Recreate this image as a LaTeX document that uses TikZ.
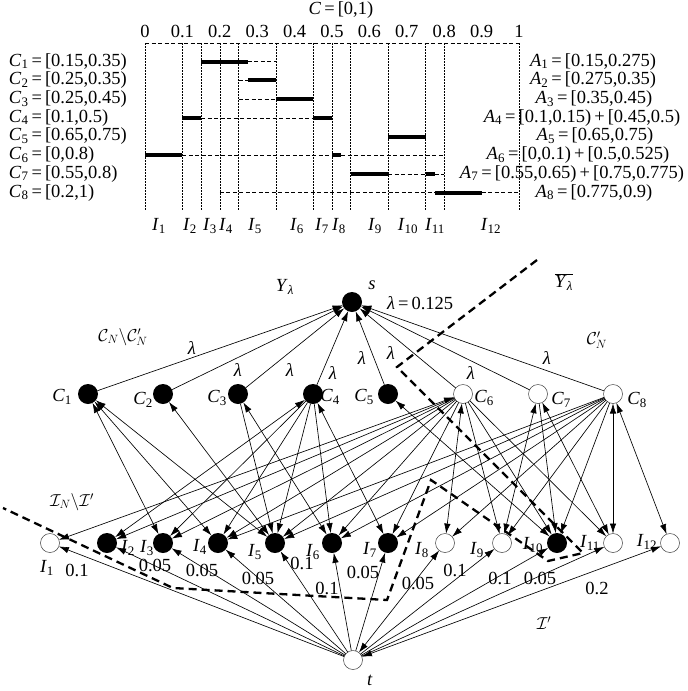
\documentclass[tikz,border=0pt]{standalone}
\usepackage{fontspec}
\setmainfont{Liberation Serif}
\usetikzlibrary{arrows.meta}
\newcommand\vv[2]{\textit{#1}\textsubscript{#2}}
\newcommand\lam{\textit{λ}}
\begin{document}
\begin{tikzpicture}[x=1pt,y=-1pt,
  every node/.style={font=\fontsize{18.5}{20}\selectfont, inner sep=0pt, outer sep=0pt},
  blk/.style={circle, fill=black, minimum size=20pt},
  wht/.style={circle, draw=black!75, line width=0.5pt, fill=white, minimum size=19pt},
  lnk/.style={line width=0.65pt},
  one/.style={lnk, -{Latex[length=10pt,width=6.5pt]}},
  two/.style={lnk, {Latex[length=10pt,width=6.5pt]}-{Latex[length=10pt,width=6.5pt]}},
  cutline/.style={line width=2.3pt, dash pattern=on 8pt off 5pt},
  gridline/.style={line width=0.5pt, dash pattern=on 2pt off 1pt},
  rowline/.style={line width=0.6pt, dash pattern=on 4pt off 2.5pt},
  bar/.style={line width=4pt},
]
\useasboundingbox (0,0) rectangle (688,691);

% ---------- top interval diagram ----------
\node (ctitle) at (341,10) {\textit{C}\,=\,[0,1)};
\foreach \v/\t [count=\k] in {0/0,0.1/0.1,0.2/0.2,0.3/0.3,0.4/0.4,0.5/0.5,0.6/0.6,0.7/0.7,0.8/0.8,0.9/0.9,1/1}
  \node (tk\k) at ({145+374*\v},31) {\t};
\draw[rowline] (145,43) -- (519,43);
\foreach \v in {0,0.1,0.15,0.2,0.25,0.35,0.45,0.5,0.55,0.65,0.75,0.8,1}
  \draw[gridline] ({145+374*\v},43) -- ({145+374*\v},210);

% dashed row spans
\foreach \a/\b/\y in {0.275/0.35/61.7, 0.25/0.275/80.4, 0.25/0.35/99.1, 0.15/0.45/117.8,
   0.1/0.5/155.2, 0.525/0.8/155.2, 0.65/0.75/173.9, 0.775/0.8/173.9, 0.2/0.775/192.6, 0.9/1/192.6}
  \draw[rowline] ({145+374*\a},\y) -- ({145+374*\b},\y);
% bold bars
\foreach \a/\b/\y in {0.15/0.275/61.7, 0.275/0.35/80.4, 0.35/0.45/99.1, 0.1/0.15/117.8, 0.45/0.5/117.8,
   0.65/0.75/136.5, 0/0.1/155.2, 0.5/0.525/155.2, 0.55/0.65/173.9, 0.75/0.775/173.9, 0.775/0.9/192.6}
  \draw[bar] ({145+374*\a},\y) -- ({145+374*\b},\y);

% left labels
\node[anchor=west] (lc1) at (9,61.7)  {\vv{C}{1}\,=\,[0.15,0.35)};
\node[anchor=west] (lc2) at (9,80.4)  {\vv{C}{2}\,=\,[0.25,0.35)};
\node[anchor=west] (lc3) at (9,99.1)  {\vv{C}{3}\,=\,[0.25,0.45)};
\node[anchor=west] (lc4) at (9,117.8) {\vv{C}{4}\,=\,[0.1,0.5)};
\node[anchor=west] (lc5) at (9,136.5) {\vv{C}{5}\,=\,[0.65,0.75)};
\node[anchor=west] (lc6) at (9,155.2) {\vv{C}{6}\,=\,[0,0.8)};
\node[anchor=west] (lc7) at (9,173.9) {\vv{C}{7}\,=\,[0.55,0.8)};
\node[anchor=west] (lc8) at (9,192.6) {\vv{C}{8}\,=\,[0.2,1)};

% right labels
\node (la1) at (593,61.7)  {\vv{A}{1}\,=\,[0.15,0.275)};
\node (la2) at (593,80.4)  {\vv{A}{2}\,=\,[0.275,0.35)};
\node (la3) at (594,99.1)  {\vv{A}{3}\,=\,[0.35,0.45)};
\node (la4) at (582,117.8) {\vv{A}{4}\,=\,[0.1,0.15)\,+\,[0.45,0.5)};
\node (la5) at (595,136.5) {\vv{A}{5}\,=\,[0.65,0.75)};
\node (la6) at (578,155.2) {\vv{A}{6}\,=\,[0,0.1)\,+\,[0.5,0.525)};
\node (la7) at (572,173.9) {\vv{A}{7}\,=\,[0.55,0.65)\,+\,[0.75,0.775)};
\node (la8) at (594,192.6) {\vv{A}{8}\,=\,[0.775,0.9)};

% interval labels
\foreach \x [count=\k] in {159,190,210,226,255,297,322,339,375,408,435,491}
  \node (li\k) at (\x,226) {\vv{I}{\k}};

% ---------- network ----------
\node[blk] (s) at (352,302) {};
\foreach \x [count=\k] in {88,163,238,313,388} \node[blk] (C\k) at (\x,394) {};
\foreach \x [count=\k from 6] in {463,538,613} \node[wht] (C\k) at (\x,394) {};
\node[wht] (I1) at (50,543) {};
\foreach \x [count=\k from 2] in {107,163,218,275,332,388} \node[blk] (I\k) at (\x,543) {};
\node[wht] (I8) at (445,543) {};
\node[wht] (I9) at (502,543) {};
\node[blk] (I10) at (557,543) {};
\node[wht] (I11) at (613,543) {};
\node[wht] (I12) at (670,543) {};
\node[wht] (t) at (353,660) {};

% C -> s
\foreach \k in {1,...,8} \draw[one] (C\k) -- (s);

% C -> I (single)
\foreach \c/\i in {3/5, 4/3, 4/4, 4/5, 4/6, 6/2, 6/3, 6/4, 6/5, 6/6, 6/7, 6/9, 6/10, 6/11, 7/10,
   8/4, 8/5, 8/6, 8/7, 8/8, 8/9, 8/10}
  \draw[one] (C\c) -- (I\i);
% C <-> I (double)
\foreach \c/\i in {1/3, 1/4, 1/5, 2/5, 3/6, 4/2, 4/7, 5/10, 6/1, 6/8, 7/9, 7/11, 8/11, 8/12}
  \draw[two] (C\c) -- (I\i);

% t -> I
\foreach \i in {1,2,3,4,5,6,7,9,10,11} \draw[one] (t) -- (I\i);
\draw[two] (t) -- (I8);
\draw[two] (t) -- (I12);

% cut
\draw[cutline] (537,260) -- (397,367) -- (583,553) -- (548,561) -- (431,480) -- (387,600) -- (173,588) -- (3,508);

% labels
\node (Ylam) at (285,287) {\textit{Y}\textsubscript{\lam}};
\node (slab) at (372,285) {\textit{s}};
\node[anchor=west] (lam0) at (387,303) {\lam\,=\,0.125};
\node (Ybar) at (564,282) {$\overline{\mbox{\textit{Y}\textsubscript{\lam}}}$};
\node (CNp) at (597,340) {$\mathcal{C}'_N$};
\node (CNdiff) at (123,337) {$\mathcal{C}_N\backslash\mathcal{C}'_N$};
\node (INdiff) at (72,502) {$\mathcal{I}_N\backslash\mathcal{I}'$};
\node (Ip) at (544,623) {$\mathcal{I}'$};
\node (tlab) at (370,680) {\textit{t}};

\foreach \x/\y [count=\k] in {192/348, 238/370, 290/370, 333/373, 362/358, 391/353, 471/373, 547/358}
  \node (lm\k) at (\x,\y) {\lam};

\foreach \x/\y [count=\k] in {62/397, 143/400, 217/398, 330/397, 364/397, 484/398, 561/400, 637/400}
  \node (lcn\k) at (\x,\y) {\vv{C}{\k}};

\foreach \x/\y [count=\k] in {47/568, 128/548, 147/548, 200/547, 255/552, 313/552, 370/550, 422/550, 477/550, 533/545, 590/543, 647/542}
  \node (lin\k) at (\x,\y) {\vv{I}{\k}};

\foreach \x/\y/\w [count=\k] in {77/570/0.1, 155/565/0.05, 202/570/0.05, 258/578/0.05, 302/563/0.1, 327/588/0.1,
   363/572/0.05, 418/583/0.05, 455/570/0.1, 500/578/0.1, 540/578/0.05, 597/588/0.2}
  \node (w\k) at (\x,\y) {\w};
\end{tikzpicture}
\end{document}
